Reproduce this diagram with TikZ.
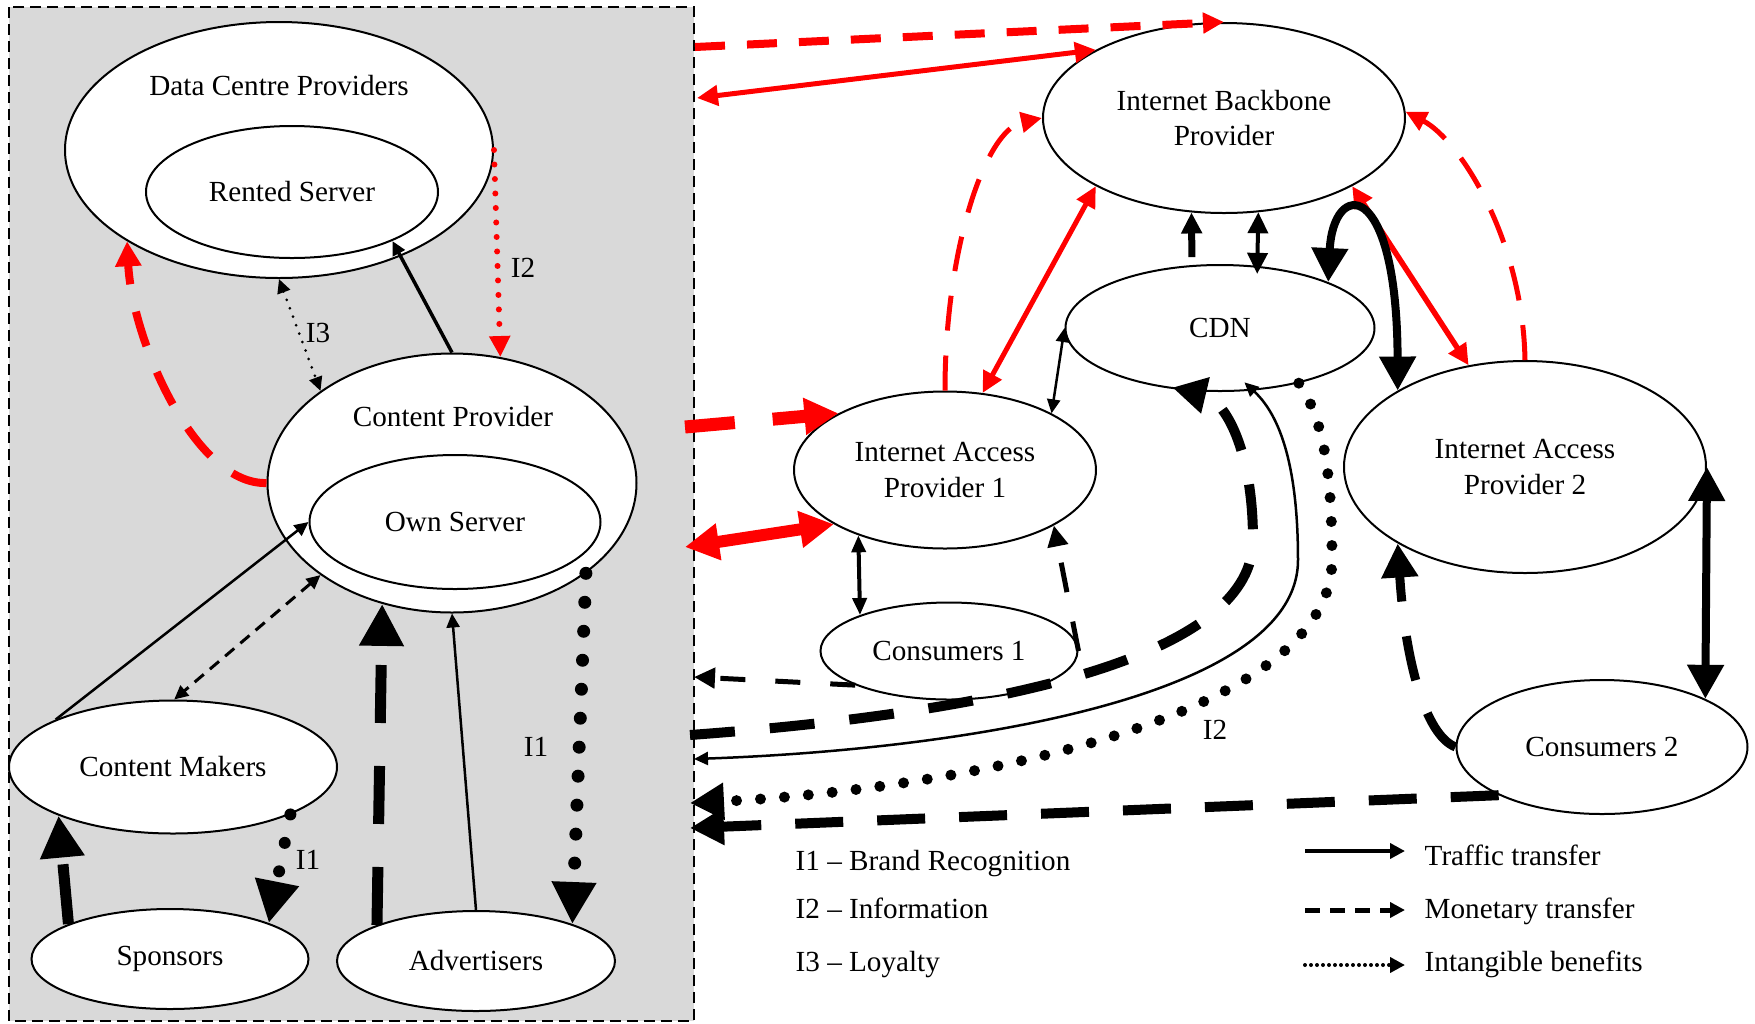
\documentclass[tikz,border=0pt]{standalone}
\usepackage{fontspec}
\setmainfont{Liberation Serif}
\usepackage{tikz}
\usetikzlibrary{shapes.geometric, arrows.meta}
\tikzstyle{ell}=[draw, shape=ellipse, fill=white, line width=0.2mm, inner sep=0pt, align=center]
\tikzstyle{txt}=[inner sep=0pt, align=center]
\tikzstyle{tipS}=[>={Triangle[length=1.4mm, width=1.3mm]}]
\tikzstyle{tipM}=[>={Triangle[length=2.1mm, width=2mm]}]
\tikzstyle{tipL}=[>={Triangle[length=3.4mm, width=3.5mm]}]
\tikzstyle{tipXL}=[>={Triangle[length=4.2mm, width=4.2mm]}]
\tikzset{dots/.style={line cap=round, dash pattern=on 0pt off #1}}
\definecolor{boxgrey}{RGB}{217,217,217}

\begin{document}
\begin{tikzpicture}[x=0.1mm, y=-0.1mm, font=\fontsize{8.3}{10}\selectfont, tipS]
\fill[white] (0,0) rectangle (1755,1023);
\useasboundingbox (0,0) rectangle (1755,1023);
\fill[boxgrey] (9,7) rectangle (694,1021);
\draw[line width=0.2mm, dash pattern=on 1.1mm off 0.6mm] (9,7) rectangle (694,1021);

\node[ell, minimum width=42.8mm, minimum height=25.6mm] (dcp) at (279,150) {};
\node[txt] (dcpt) at (279,86) {Data Centre Providers};
\node[ell, minimum width=29.2mm, minimum height=13.2mm] (rs) at (292,192) {Rented Server};
\node[ell, minimum width=36.9mm, minimum height=25.9mm] (cp) at (452,483) {};
\node[txt] (cpt) at (453,417) {Content Provider};
\node[ell, minimum width=29.1mm, minimum height=13.4mm] (os) at (455,522) {Own Server};
\node[ell, minimum width=32.8mm, minimum height=13.3mm] (cm) at (173,767) {Content Makers};
\node[ell, minimum width=27.7mm, minimum height=10mm] (sp) at (170,959) {Sponsors};
\node[ell, minimum width=27.8mm, minimum height=10mm] (adv) at (476,961) {Advertisers};
\node[ell, minimum width=36.2mm, minimum height=19mm] (ibp) at (1224,118) {Internet Backbone\\Provider};
\node[ell, minimum width=30.9mm, minimum height=12.6mm] (cdn) at (1220,328) {CDN};
\node[ell, minimum width=30.2mm, minimum height=15.7mm] (iap1) at (945,470) {Internet Access\\Provider 1};
\node[ell, minimum width=36.2mm, minimum height=21.2mm] (iap2) at (1525,467) {Internet Access\\Provider 2};
\node[ell, minimum width=25.7mm, minimum height=9.7mm] (c1) at (949,651) {Consumers 1};
\node[ell, minimum width=29.1mm, minimum height=13.4mm] (c2) at (1602,747) {Consumers 2};

% box edge
\coordinate (e1) at (695,47);
\coordinate (e2) at (697,98);
\coordinate (e3) at (685,427);
\coordinate (e4) at (685,547);
\coordinate (e5) at (694,677);
\coordinate (e6) at (690,735);
\coordinate (e7) at (694,759);
\coordinate (e8) at (690,803);
\coordinate (e9) at (690,828);

% inside the box
\draw[line width=0.35mm, ->] (cp.90) -- (rs.-26);
\draw[line width=0.3mm, dots=0.9mm, <->] (dcp.-90) -- (cp.145);
\node[txt] (i3) at (318,333) {I3};
\draw[red, line width=0.6mm, dots=1.45mm, tipM, ->] (dcp.0) -- (cp.69);
\node[txt] (i2a) at (523,268) {I2};
\draw[red, line width=0.8mm, dash pattern=on 3.6mm off 2.8mm, >={Triangle[length=2.5mm, width=2.5mm]}, ->] (cp.180) .. controls (195,485) and (132,340) .. (dcp.211);
\draw[line width=0.25mm, ->] (cm.158) -- (os.180);
\draw[line width=0.3mm, dash pattern=on 1.2mm off 0.8mm, <->] (cp.215) -- (cm.89);
\draw[line width=1.1mm, dash pattern=on 5.8mm off 4.3mm, tipXL, ->] (adv.160) -- (cp.240);
\draw[line width=0.25mm, ->] (adv.90) -- (cp.270);
\draw[line width=1.3mm, dots=2.9mm, tipXL, ->] (cp.-34) -- (adv.21);
\node[txt] (i1a) at (536,747) {I1};
\draw[line width=1.2mm, dots=2.9mm, tipXL, ->] (cm.-22) -- (sp.20);
\node[txt] (i1b) at (308,860) {I1};
\draw[line width=1.1mm, dash pattern=on 6mm off 4mm, tipXL, ->] (sp.161) -- (cm.203);

% red links
\draw[red, line width=0.8mm, dash pattern=on 3mm off 2.2mm, tipM, ->] (e1) -- (ibp.90);
\draw[red, line width=0.5mm, tipM, <->] (e2) -- (ibp.152);
\draw[red, line width=1.3mm, dash pattern=on 5mm off 3.8mm, tipL, ->] (e3) -- (iap1.152);
\draw[red, line width=1.2mm, tipL, <->] (e4) -- (iap1.206);
\draw[red, line width=0.5mm, dash pattern=on 3.5mm off 2.5mm, tipM, ->] (iap1.90) .. controls (945,250) and (985,130) .. (ibp.180);
\draw[red, line width=0.5mm, tipM, <->] (iap1.64) -- (ibp.208);
\draw[red, line width=0.5mm, dash pattern=on 3.5mm off 2.5mm, tipM, ->] (iap2.90) .. controls (1523,240) and (1460,140) .. (ibp.2);
\draw[red, line width=0.55mm, tipM, <->] (ibp.-28) -- (iap2.119);

% black links
\draw[line width=0.7mm, dash pattern=on 3mm off 0.8mm, dash phase=3mm, tipM, ->] (cdn.114) -- (ibp.251);
\draw[line width=0.4mm, tipM, <->, shorten <=-0.8mm] (cdn.59) -- (ibp.-70.5);
\draw[line width=0.8mm, tipL, <->] (cdn.23) .. controls (1333,180) and (1397,175) .. (iap2.149);
\draw[line width=0.25mm, <->] (iap1.28) -- (cdn.180);
\draw[line width=0.4mm, >={Triangle[length=1.7mm, width=1.4mm]}, <->] (iap1.217.4) -- (c1.158.5);
\draw[line width=0.5mm, dash pattern=on 3mm off 3mm, tipM, ->] (c1.0) -- (iap1.-27);
\draw[line width=0.5mm, dash pattern=on 2.5mm off 3mm, tipM, ->] (c1.200) -- (e5);
\draw[line width=1mm, dash pattern=on 4.5mm off 3.5mm, tipL, ->, shorten >=-1.2mm] (e6) .. controls (1030,710) and (1253,650) .. (1253,540) .. controls (1253,450) and (1225,400) .. (cdn.240);
\draw[line width=0.25mm, <->, shorten <=-1.2mm] (cdn.-62) .. controls (1285,420) and (1298,480) .. (1298,560) .. controls (1298,700) and (950,750) .. (e7);
\draw[line width=1.1mm, dots=2.4mm, tipL, ->] (cdn.-35) .. controls (1325,420) and (1332,480) .. (1332,560) .. controls (1332,720) and (950,790) .. (e8);
\node[txt] (i2b) at (1215,730) {I2};
\draw[line width=1mm, dash pattern=on 4.8mm off 3.4mm, tipL, ->] (c2.205) -- (e9);
\draw[line width=0.9mm, dash pattern=on 4.5mm off 3.5mm, tipL, ->] (c2.180) .. controls (1425,735) and (1405,660) .. (iap2.211);
\draw[line width=0.8mm, tipL, <->] (iap2.0) -- (c2.25);

% legend
\node[txt, anchor=base west] (l1) at (795,870) {I1 -- Brand Recognition};
\node[txt, anchor=base west] (l2) at (795,918) {I2 -- Information};
\node[txt, anchor=base west] (l3) at (795,971) {I3 -- Loyalty};
\node[txt, anchor=base west] (k1) at (1424,865) {Traffic transfer};
\node[txt, anchor=base west] (k2) at (1424,918) {Monetary transfer};
\node[txt, anchor=base west] (k3) at (1424,971) {Intangible benefits};
\coordinate (g1) at (1305,851);
\coordinate (g2) at (1305,910);
\coordinate (g3) at (1305,965);
\tikzset{>={Triangle[length=1.5mm, width=1.5mm]}}
\draw[line width=0.4mm, ->, shorten >=1.9mm] (g1) -- (g1 -| k1.west);
\draw[line width=0.5mm, dash pattern=on 1.5mm off 1mm, ->, shorten >=1.9mm] (g2) -- (g2 -| k2.west);
\draw[line width=0.4mm, dots=0.6mm, ->, shorten >=1.9mm] (g3) -- (g3 -| k3.west);
\end{tikzpicture}
\end{document}
